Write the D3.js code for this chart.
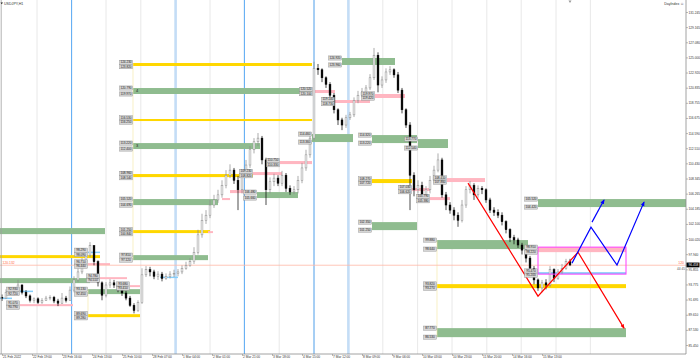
<!DOCTYPE html>
<html>
<head>
<meta charset="utf-8">
<script src="https://cdn.jsdelivr.net/npm/d3@7"></script>
<style>
html, body { margin: 0; padding: 0; background: #fff; }
svg { display: block; font-family: "Liberation Sans", Arial, sans-serif; }
</style>
</head>
<body>
<svg id="chart" width="700" height="362"></svg>
<script>
// H1 bars, open of each bar is the previous close
const firstOpen = 92.0
const closes = [
    91.9, 92.7, 93.0, 92.6, 93.7, 92.7, 92.2, 91.6, 91.8, 91.3,
    91.6, 91.9, 92.0, 91.5, 91.2, 91.9, 91.6, 93.0, 94.4, 95.5,
    96.9, 97.8, 99.1, 96.9, 94.0, 92.3, 93.7, 94.0, 93.7, 93.0,
    92.6, 91.9, 90.9, 90.2, 91.3, 95.1, 95.8, 95.5, 94.9, 95.2,
    94.6, 94.9, 95.2, 95.3, 95.5, 96.0, 96.4, 96.9, 98.2, 100.6,
    102.6, 103.3, 104.7, 105.4, 106.1, 107.4, 108.8, 109.5, 108.1, 106.8,
    108.8, 110.2, 112.3, 113.4, 113.9, 110.9, 106.8, 107.9, 108.4, 107.7,
    108.8, 107.0, 106.5, 106.8, 108.1, 109.8, 111.6, 113.9, 123.5, 123.3,
    122.2, 121.3, 119.8, 117.8, 116.4, 115.7, 116.7, 117.1, 119.1, 119.8,
    120.2, 120.8, 122.2, 125.3, 121.2, 121.9, 123.0, 123.3, 122.6, 120.5,
    117.8, 115.7, 108.8, 106.8, 107.4, 106.1, 106.8, 108.1, 109.5, 110.9,
    106.1, 104.7, 104.0, 103.3, 102.6, 104.7, 106.8, 107.4, 106.1, 107.0,
    106.8, 105.4, 104.0, 103.7, 103.3, 102.4, 101.3, 100.2, 99.9, 99.2,
    98.5, 97.4, 96.0, 94.4, 93.3, 94.0, 93.7, 95.8, 94.6, 95.5,
    96.0, 96.9, 96.458
]
const highs = [
    92.4, 93.1, 93.4, 93.3, 94.4, 93.8, 93.0, 92.4, 92.0, 92.0,
    91.9, 92.2, 92.3, 92.2, 91.8, 92.6, 92.2, 93.5, 94.9, 96.0,
    97.4, 98.5, 99.6, 99.2, 97.1, 94.2, 94.1, 94.5, 94.4, 94.0,
    93.3, 92.9, 92.2, 91.2, 91.6, 96.0, 96.3, 96.2, 95.8, 95.6,
    95.5, 95.3, 95.6, 95.8, 95.9, 96.4, 96.9, 97.4, 98.9, 101.3,
    103.5, 104.0, 105.4, 106.1, 106.8, 108.1, 109.5, 110.3, 109.8, 108.7,
    109.5, 110.9, 112.8, 113.9, 114.6, 114.2, 111.2, 108.5, 109.0, 108.8,
    109.4, 109.1, 107.4, 107.3, 108.7, 110.5, 112.3, 114.6, 124.4, 124.1,
    123.5, 122.4, 121.6, 120.1, 118.0, 116.7, 117.1, 117.5, 119.5, 120.4,
    120.8, 121.2, 122.7, 126.3, 125.7, 122.4, 123.5, 123.8, 123.5, 123.0,
    120.8, 118.0, 116.1, 109.2, 108.1, 107.9, 107.3, 108.7, 110.1, 111.8,
    111.2, 106.5, 105.1, 104.4, 103.7, 105.4, 107.3, 108.0, 107.7, 107.4,
    107.3, 107.0, 105.7, 104.4, 104.1, 103.7, 102.6, 101.5, 100.6, 100.2,
    99.5, 98.8, 97.7, 96.3, 94.6, 94.4, 94.5, 96.3, 96.0, 95.9,
    96.6, 97.3, 97.3
]
const lows = [
    91.5, 91.8, 92.4, 92.3, 92.4, 92.4, 91.9, 91.3, 91.2, 91.1,
    91.1, 91.5, 91.6, 91.2, 90.8, 91.1, 91.3, 91.5, 92.7, 94.1,
    95.2, 96.6, 97.5, 96.4, 93.5, 91.6, 92.0, 93.3, 93.3, 92.7,
    92.2, 91.6, 90.7, 89.8, 90.0, 91.1, 94.8, 94.9, 94.5, 94.4,
    94.2, 94.4, 94.6, 94.8, 94.9, 95.2, 95.8, 96.2, 96.6, 97.9,
    100.2, 102.1, 102.9, 104.3, 105.0, 105.7, 107.0, 108.4, 107.6, 104.0,
    106.3, 108.4, 109.8, 111.8, 112.8, 110.3, 104.7, 106.3, 107.3, 107.3,
    107.3, 106.5, 106.1, 106.2, 106.3, 107.7, 109.4, 111.2, 113.6, 122.6,
    121.6, 120.8, 119.4, 117.3, 115.7, 115.0, 115.3, 116.4, 116.8, 118.7,
    119.5, 120.0, 120.5, 121.9, 120.2, 120.8, 121.5, 122.6, 122.2, 120.1,
    117.3, 115.3, 104.0, 105.9, 106.3, 105.4, 105.7, 106.3, 107.7, 109.2,
    105.7, 104.0, 103.5, 102.6, 101.7, 102.3, 104.3, 106.3, 105.4, 105.7,
    106.2, 105.0, 103.6, 103.2, 102.9, 101.9, 100.8, 99.6, 99.3, 98.8,
    97.9, 96.8, 95.5, 93.8, 92.9, 92.7, 93.1, 93.4, 94.1, 94.4,
    95.2, 95.8, 96.3
]

const priceTicks = [131.245, 129.165, 127.080, 125.000, 122.920, 120.835, 118.755, 116.675,
    114.590, 112.510, 110.430, 108.345, 106.265, 104.185, 102.100, 100.020, 97.940, 95.855,
    93.775, 91.695, 89.610, 87.530, 85.450]
const timeLabels = ['21 Feb 2022', '22 Feb 19:00', '23 Feb 16:00', '24 Feb 13:00', '25 Feb 10:00',
    '28 Feb 07:00', '1 Mar 04:00', '2 Mar 01:00', '2 Mar 21:00', '3 Mar 18:00', '4 Mar 15:00',
    '7 Mar 12:00', '8 Mar 09:00', '9 Mar 06:00', '10 Mar 03:00', '10 Mar 23:00', '11 Mar 20:00',
    '14 Mar 16:00', '15 Mar 13:00']
const barsPerLabel = 7.5
const gridBars = [8.75, 17.4, 26.0, 34.7, 43.4, 52.0, 60.6, 69.3, 78.0, 86.6, 95.2, 103.9,
    112.5, 121.2, 129.8, 138.5, 147.1]
const daySeparators = [17.4, 60.6, 78.0]
const weekSeparators = [43.4, 86.6]

// kind, from bar, to bar, top price, bottom price, labelled, tag
const zones = [
    ['green', -1, 25.75, 101.53, 100.70, false, ''],
    ['gold', -1, 24.5, 97.81, 97.40, false, ''],
    ['green', -1, 22, 94.65, 93.96, false, ''],
    ['pink', 4.5, 17.75, 91.07, 90.79, true, ''],
    ['green', 21.5, 34.5, 93.13, 92.45, true, ''],
    ['gold', 21.5, 34.5, 89.69, 89.28, true, ''],
    ['pink', 21.5, 27, 96.71, 96.44, true, ''],
    ['pink', 24.5, 31.25, 94.78, 94.51, true, ''],
    ['pink', 32, 34.5, 93.68, 93.41, true, ''],
    ['gold', 32.75, 77.5, 124.23, 123.82, true, ''],
    ['green', 32.75, 77.5, 120.79, 119.97, true, '4'],
    ['gold', 32.75, 77.5, 116.53, 116.25, true, ''],
    ['green', 32.75, 64.5, 113.22, 112.40, true, '3'],
    ['gold', 32.75, 62.75, 108.96, 108.54, true, ''],
    ['green', 32.75, 54, 105.52, 104.69, true, ''],
    ['gold', 32.75, 52, 101.25, 100.84, true, ''],
    ['green', 32.75, 51.5, 97.81, 97.12, true, ''],
    ['pink', 51.5, 52.75, 101.11, 100.84, false, ''],
    ['pink', 55, 57, 105.66, 105.38, false, ''],
    ['pink', 57, 60.75, 106.76, 106.34, false, ''],
    ['pink', 62.75, 70, 109.23, 108.82, true, ''],
    ['green', 63.75, 74, 106.48, 105.66, true, ''],
    ['pink', 69.5, 77.5, 110.75, 110.33, true, ''],
    ['green', 77.5, 87.75, 114.46, 113.36, true, ''],
    ['pink', 77.75, 83.25, 120.52, 120.10, true, ''],
    ['pink', 83.25, 92, 119.14, 118.73, true, ''],
    ['green', 85, 98.25, 124.92, 123.96, true, ''],
    ['pink', 93.25, 100.75, 119.97, 119.42, true, ''],
    ['green', 92.5, 103.75, 114.32, 113.22, true, ''],
    ['gold', 92.5, 102.5, 108.27, 107.72, true, ''],
    ['green', 92.5, 103.75, 102.35, 101.25, true, ''],
    ['pink', 102.5, 107, 107.03, 106.62, true, ''],
    ['green', 104, 111.5, 113.77, 112.54, true, ''],
    ['pink', 107, 112, 105.79, 105.38, true, ''],
    ['pink', 111.25, 120.75, 108.41, 107.86, true, ''],
    ['green', 108.75, 131.5, 99.88, 98.64, true, ''],
    ['gold', 108.75, 156, 93.82, 93.27, true, ''],
    ['green', 108.75, 156, 87.77, 86.53, true, ''],
    ['green', 134, 171, 105.52, 104.42, true, ''],
    ['pink', 134, 156, 98.91, 98.22, true, ''],
    ['sky', 134, 156, 95.47, 95.20, true, ''],
    ['sky', -1, 2.5, 91.97, 91.76, false, ''],
    ['sky', 4.5, 7.75, 92.93, 92.72, true, ''],
    ['sky', 21.5, 24.5, 98.29, 98.09, true, ''],
    ['sky', 39.5, 44, 94.85, 94.65, false, '']
]
// bar, top price, bottom price
const connectors = [[32.75, 124.23, 97.12], [21.5, 93.13, 89.28], [108.75, 99.88, 86.53]]
const rangeBox = [134, 156, 98.91, 95.20]
const redPath = [[116.5, 107.72], [134, 92.17], [144, 98.22], [155.5, 87.77]]
const bluePath = [[142.5, 96.71], [147.25, 101.66], [153.75, 96.44], [160.5, 105.10]]
const blueArrow = [[147.5, 102.35], [150.5, 105.38]]
const levelPrice = 96.42
const levelText = '120.132'
const levelTag = '120'
const timerText = '44:45'
const symbolText = 'USDJPY,H1'
const expertText = 'DayIndex \u263A'

const W = 700, H = 362
const plotRight = 686, plotBottom = 354
const labelW = 13, labelH = 4.2
const svg = d3.select('#chart')
const x = d3.scaleLinear().domain([0, 171]).range([2, plotRight])
const y = d3.scaleLinear().domain([85.45, 131.245]).range([345, 12])
const fmt = d3.format('.3f')
const zoneColor = { green: '#8fbc8f', gold: '#ffd700', pink: '#ffb6c1', sky: '#87cefa' }

svg.append('rect').attr('width', W).attr('height', H).attr('fill', '#fff')

svg.append('defs').selectAll('marker')
    .data([['arrowRed', '#ff0000'], ['arrowBlue', '#0000ff']])
    .join('marker')
    .attr('id', d => d[0])
    .attr('viewBox', '0 0 10 10')
    .attr('refX', 8).attr('refY', 5)
    .attr('markerWidth', 4).attr('markerHeight', 4)
    .attr('orient', 'auto')
    .append('path')
    .attr('d', 'M0,1 L10,5 L0,9 Z')
    .attr('fill', d => d[1])

// grid and period separators
svg.append('g').selectAll('line').data(gridBars).join('line')
    .attr('x1', d => x(d)).attr('x2', d => x(d))
    .attr('y1', 0).attr('y2', plotBottom)
    .attr('stroke', '#e2e2e2').attr('stroke-width', 0.8)
svg.append('g').selectAll('line').data(weekSeparators).join('line')
    .attr('x1', d => x(d)).attr('x2', d => x(d))
    .attr('y1', 0).attr('y2', plotBottom)
    .attr('stroke', '#c4ddf6').attr('stroke-width', 2.6)
svg.append('g').selectAll('line').data(daySeparators).join('line')
    .attr('x1', d => x(d)).attr('x2', d => x(d))
    .attr('y1', 0).attr('y2', plotBottom)
    .attr('stroke', '#5aaaf5').attr('stroke-width', 1)

// zones
svg.append('g').selectAll('rect').data(zones).join('rect')
    .attr('x', d => x(d[1]))
    .attr('width', d => x(d[2]) - x(d[1]))
    .attr('y', d => y(d[3]))
    .attr('height', d => Math.max(1.2, y(d[4]) - y(d[3])))
    .attr('fill', d => zoneColor[d[0]])
svg.append('g').selectAll('text').data(zones.filter(d => d[6])).join('text')
    .attr('x', d => x(d[1]) + 3)
    .attr('y', d => (y(d[3]) + y(d[4])) / 2 + 1.4)
    .attr('font-size', 4).attr('fill', '#222')
    .text(d => d[6])
svg.append('g').selectAll('line').data(connectors).join('line')
    .attr('x1', d => x(d[0])).attr('x2', d => x(d[0]))
    .attr('y1', d => y(d[1])).attr('y2', d => y(d[2]))
    .attr('stroke', '#f3e6a0').attr('stroke-width', 0.6)
svg.append('line')
    .attr('x1', 0).attr('x2', plotRight)
    .attr('y1', y(levelPrice)).attr('y2', y(levelPrice))
    .attr('stroke', '#ffb8a6').attr('stroke-width', 0.8)

// candles
const bars = closes.map((c, i) => ({
    i, c, o: i === 0 ? firstOpen : closes[i - 1], h: highs[i], l: lows[i]
}))
const candle = svg.append('g').selectAll('g').data(bars).join('g')
candle.append('line')
    .attr('x1', d => x(d.i)).attr('x2', d => x(d.i))
    .attr('y1', d => y(d.h)).attr('y2', d => y(d.l))
    .attr('stroke', d => d.c >= d.o ? '#8a8a8a' : '#000')
    .attr('stroke-width', 0.7)
candle.append('rect')
    .attr('x', d => x(d.i) - 0.9).attr('width', 1.8)
    .attr('y', d => y(Math.max(d.o, d.c)))
    .attr('height', d => Math.max(0.6, Math.abs(y(d.o) - y(d.c))))
    .attr('fill', d => d.c >= d.o ? '#fff' : '#000')
    .attr('stroke', d => d.c >= d.o ? '#8a8a8a' : '#000')
    .attr('stroke-width', 0.5)

// range box and projection paths
svg.append('rect')
    .attr('x', x(rangeBox[0])).attr('width', x(rangeBox[1]) - x(rangeBox[0]))
    .attr('y', y(rangeBox[2])).attr('height', y(rangeBox[3]) - y(rangeBox[2]))
    .attr('fill', 'none').attr('stroke', '#ff3cff').attr('stroke-width', 1)
const line = d3.line().x(d => x(d[0])).y(d => y(d[1]))
svg.append('path').attr('d', line(redPath))
    .attr('fill', 'none').attr('stroke', '#ff0000').attr('stroke-width', 1.2)
    .attr('marker-end', 'url(#arrowRed)')
svg.append('path').attr('d', line(bluePath))
    .attr('fill', 'none').attr('stroke', '#0000ff').attr('stroke-width', 1.2)
    .attr('marker-end', 'url(#arrowBlue)')
svg.append('path').attr('d', line(blueArrow))
    .attr('fill', 'none').attr('stroke', '#0000ff').attr('stroke-width', 1.2)
    .attr('marker-end', 'url(#arrowBlue)')

// price labels at the left end of each zone, stacked when the zone is thin
const labels = []
zones.filter(d => d[5]).forEach(d => {
    const mid = (y(d[3]) + y(d[4])) / 2
    const half = labelH / 2 + 0.1
    labels.push({ bar: d[1], price: d[3], cy: Math.min(y(d[3]), mid - half) })
    labels.push({ bar: d[1], price: d[4], cy: Math.max(y(d[4]), mid + half) })
})
const lab = svg.append('g').selectAll('g').data(labels).join('g')
    .attr('transform', d => `translate(${x(d.bar) - labelW - 0.5},${d.cy})`)
lab.append('rect')
    .attr('x', 0).attr('y', -labelH / 2).attr('width', labelW).attr('height', labelH)
    .attr('fill', '#d6d6d6').attr('stroke', '#8c8c8c').attr('stroke-width', 0.4)
lab.append('text')
    .attr('x', labelW / 2).attr('y', 1.1)
    .attr('text-anchor', 'middle').attr('font-size', 3.1).attr('fill', '#222')
    .text(d => fmt(d.price))

// axes
const yAxis = d3.axisRight(y).tickValues(priceTicks).tickSize(2).tickFormat(fmt)
svg.append('g').attr('transform', `translate(${plotRight},0)`).call(yAxis)
    .call(g => g.select('.domain').remove())
    .call(g => g.selectAll('.tick line').attr('stroke', '#777').attr('stroke-width', 0.5))
    .call(g => g.selectAll('.tick text').attr('x', 2.5).attr('font-size', 3.2)
        .attr('fill', '#333').attr('font-family', null))
const xAxis = d3.axisBottom(x)
    .tickValues(timeLabels.map((t, k) => k * barsPerLabel))
    .tickSize(2)
    .tickFormat((d, k) => timeLabels[k])
svg.append('g').attr('transform', `translate(0,${plotBottom})`).call(xAxis)
    .call(g => g.select('.domain').remove())
    .call(g => g.selectAll('.tick line').attr('stroke', '#777').attr('stroke-width', 0.5))
    .call(g => g.selectAll('.tick text').attr('y', 2.2).attr('dx', 0.6)
        .attr('text-anchor', 'start').attr('font-size', 3.2)
        .attr('fill', '#333').attr('font-family', null))

svg.append('line').attr('x1', plotRight).attr('x2', plotRight).attr('y1', 0).attr('y2', plotBottom)
    .attr('stroke', '#8c8c8c').attr('stroke-width', 0.8)
svg.append('line').attr('x1', 0).attr('x2', plotRight).attr('y1', plotBottom).attr('y2', plotBottom)
    .attr('stroke', '#8c8c8c').attr('stroke-width', 0.8)
svg.append('line').attr('x1', 1.2).attr('x2', 1.2).attr('y1', 0).attr('y2', plotBottom)
    .attr('stroke', '#a0a0a0').attr('stroke-width', 0.8)

// current price and texts
const last = bars[bars.length - 1]
svg.append('rect').attr('x', plotRight + 0.5).attr('y', y(last.c) - 2.4)
    .attr('width', 13).attr('height', 4.8).attr('fill', '#000')
svg.append('text').attr('x', plotRight + 2.5).attr('y', y(last.c) + 1.1)
    .attr('font-size', 3.2).attr('fill', '#fff').text(fmt(last.c))
svg.append('text').attr('x', plotRight - 2).attr('y', y(levelPrice) - 1.5)
    .attr('text-anchor', 'end').attr('font-size', 3.4).attr('fill', '#ff6a3c').text(levelTag)
svg.append('text').attr('x', plotRight - 1).attr('y', y(levelPrice) + 4.5)
    .attr('text-anchor', 'end').attr('font-size', 3.2).attr('fill', '#555').text(timerText)
svg.append('text').attr('x', 2.5).attr('y', y(levelPrice) - 1.5)
    .attr('font-size', 3.4).attr('fill', '#ff6a3c').text(levelText)
svg.append('text').attr('x', 4).attr('y', 5)
    .attr('font-size', 3.6).attr('fill', '#333').text(symbolText)
svg.append('path').attr('d', 'M0.5,2.5 L3,2.5 L1.75,4.2 Z').attr('fill', '#222')
svg.append('text').attr('x', 684).attr('y', 5.2)
    .attr('text-anchor', 'end').attr('font-size', 3.6).attr('fill', '#333').text(expertText)
svg.append('path')
    .attr('d', `M${x(last.i) - 1.5},0.5 L${x(last.i) + 1.5},0.5 L${x(last.i)},3 Z`)
    .attr('fill', '#999')
</script>
</body>
</html>
